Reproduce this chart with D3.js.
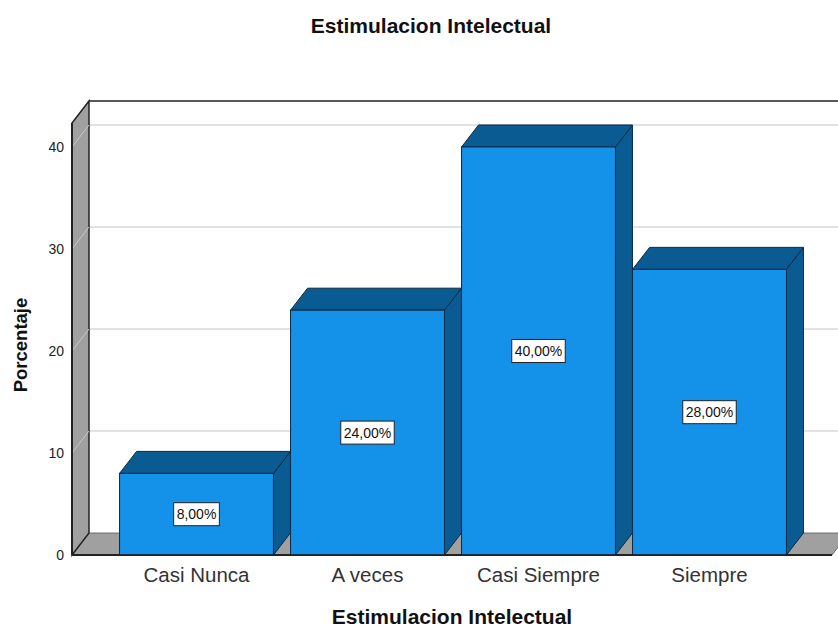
<!DOCTYPE html>
<html>
<head>
<meta charset="utf-8">
<script src="https://cdn.jsdelivr.net/npm/d3@7"></script>
<style>
html,body{margin:0;padding:0;background:#fff;}
svg{display:block;font-family:"Liberation Sans",Arial,sans-serif;}
</style>
</head>
<body>
<svg id="chart" width="838" height="629"></svg>
<script>
const categories = ["Casi Nunca", "A veces", "Casi Siempre", "Siempre"];
const values = [8, 24, 40, 28];
const valueLabels = ["8,00%", "24,00%", "40,00%", "28,00%"];
const yTicks = [0, 10, 20, 30, 40];
const chartTitle = "Estimulacion Intelectual";
const xTitle = "Estimulacion Intelectual";
const yTitle = "Porcentaje";

const svg = d3.select("#chart");
const W = 838, H = 629;
const dx = 17, dy = -22;
const x0 = 72, xRight = 832, yBase = 555, yTopF = 123;

const y = d3.scaleLinear().domain([0, 42.35]).range([yBase, yTopF]);
const x = d3.scaleBand().domain(categories).range([111, 795]).paddingInner(0.1).paddingOuter(0.05);

const poly = pts => "M" + pts.map(p => p.join(",")).join("L") + "Z";

// back wall gridlines
const g = svg.append("g");
yTicks.forEach(t => {
  if (t === 0) return;
  const yf = y(t);
  g.append("line").attr("x1", x0 + dx).attr("x2", W + 20).attr("y1", yf + dy).attr("y2", yf + dy)
    .attr("stroke", "#d8d8d8").attr("stroke-width", 1.5);
});
// back top line
g.append("line").attr("x1", x0 + dx).attr("x2", W + 20).attr("y1", yTopF + dy).attr("y2", yTopF + dy)
  .attr("stroke", "#222").attr("stroke-width", 1.5);

// floor
g.append("path").attr("d", poly([[x0, yBase], [x0 + dx, yBase + dy], [xRight + dx, yBase + dy], [xRight, yBase]]))
  .attr("fill", "#a0a0a0").attr("stroke", "#555").attr("stroke-width", 0.8);
g.append("line").attr("x1", x0).attr("x2", xRight).attr("y1", yBase).attr("y2", yBase)
  .attr("stroke", "#222").attr("stroke-width", 2);

// left wall
g.append("path").attr("d", poly([[x0, yBase], [x0, yTopF], [x0 + dx, yTopF + dy], [x0 + dx, yBase + dy]]))
  .attr("fill", "#a0a0a0").attr("stroke", "#222").attr("stroke-width", 1.5);
yTicks.forEach(t => {
  if (t === 0) return;
  const yf = y(t);
  g.append("line").attr("x1", x0).attr("x2", x0 + dx).attr("y1", yf).attr("y2", yf + dy)
    .attr("stroke", "#c8c8c8").attr("stroke-width", 1);
});
g.append("line").attr("x1", x0).attr("x2", x0).attr("y1", yTopF).attr("y2", yBase)
  .attr("stroke", "#222").attr("stroke-width", 2);

// y axis
const yAxis = d3.axisLeft(y).tickValues(yTicks).tickFormat(d3.format("d")).tickSize(0).tickPadding(8);
const ya = svg.append("g").attr("transform", `translate(${x0},0)`).call(yAxis);
ya.select(".domain").remove();
ya.selectAll("text").attr("font-size", 14).attr("fill", "#222").attr("font-family", "Liberation Sans, Arial, sans-serif");

// bars
const front = "#1491e8", dark = "#0b5b93", edge = "#0a2a45";
categories.forEach((c, i) => {
  const xl = x(c), xr = xl + x.bandwidth();
  const yt = y(values[i]);
  const bg = svg.append("g");
  bg.append("path").attr("d", poly([[xr, yBase], [xr, yt], [xr + dx, yt + dy], [xr + dx, yBase + dy]]))
    .attr("fill", dark).attr("stroke", edge).attr("stroke-width", 1);
  bg.append("path").attr("d", poly([[xl, yt], [xl + dx, yt + dy], [xr + dx, yt + dy], [xr, yt]]))
    .attr("fill", dark).attr("stroke", edge).attr("stroke-width", 1);
  bg.append("rect").attr("x", xl).attr("y", yt).attr("width", xr - xl).attr("height", yBase - yt)
    .attr("fill", front).attr("stroke", edge).attr("stroke-width", 1);
  const cx = (xl + xr) / 2, cy = y(values[i] / 2);
  const t = bg.append("text").attr("x", cx).attr("y", cy).attr("text-anchor", "middle")
    .attr("dominant-baseline", "central").attr("font-size", 14).attr("fill", "#111").text(valueLabels[i]);
  const bb = t.node().getBBox();
  bg.insert("rect", "text").attr("x", bb.x - 3).attr("y", cy - 11.5).attr("width", bb.width + 6).attr("height", 23)
    .attr("fill", "#fff").attr("stroke", "#222").attr("stroke-width", 1);
});
svg.append("line").attr("x1", x0).attr("x2", xRight).attr("y1", yBase).attr("y2", yBase)
  .attr("stroke", "#222").attr("stroke-width", 1.5);

// x axis labels
const xAxis = d3.axisBottom(x).tickSize(0).tickPadding(12);
const xa = svg.append("g").attr("transform", `translate(0,${yBase})`).call(xAxis);
xa.select(".domain").remove();
xa.selectAll("text").attr("font-size", 20.5).attr("fill", "#333").attr("font-family", "Liberation Sans, Arial, sans-serif");

// titles
svg.append("text").attr("x", 431).attr("y", 33).attr("text-anchor", "middle")
  .attr("font-size", 21).attr("font-weight", "bold").attr("fill", "#111").text(chartTitle);
svg.append("text").attr("x", 452).attr("y", 624).attr("text-anchor", "middle")
  .attr("font-size", 21).attr("font-weight", "bold").attr("fill", "#111").text(xTitle);
svg.append("text").attr("transform", "translate(27,345) rotate(-90)").attr("text-anchor", "middle")
  .attr("font-size", 18.5).attr("font-weight", "bold").attr("fill", "#111").text(yTitle);
</script>
</body>
</html>
